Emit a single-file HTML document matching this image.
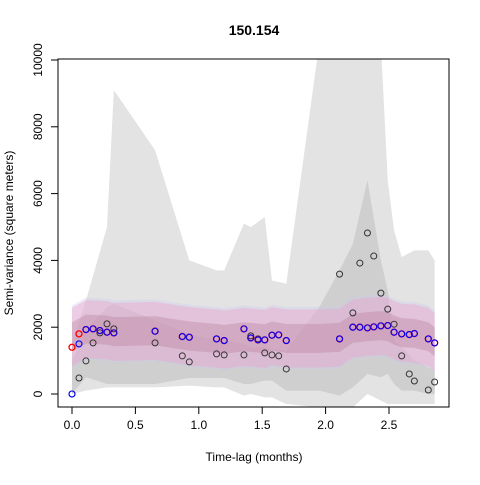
<!DOCTYPE html>
<html><head><meta charset="utf-8"><style>
body{margin:0;background:#fff;font-family:"Liberation Sans",sans-serif}
</style></head><body>
<svg id="chart" width="480" height="480" xmlns="http://www.w3.org/2000/svg" font-family="Liberation Sans, sans-serif">
<text x="254" y="35" text-anchor="middle" font-size="14" font-weight="bold">150.154</text>
<g id="bands"></g><g id="points"></g>
<rect x="58" y="59" width="391" height="348" fill="none" stroke="#000"/>
<g id="axes" font-size="12"></g>
<text x="254" y="461" text-anchor="middle" font-size="12">Time-lag (months)</text>
<text transform="translate(13,233) rotate(-90)" text-anchor="middle" font-size="12">Semi-variance (square meters)</text>
</svg>
<script>
const lags=[0,0.055,0.11,0.166,0.22,0.276,0.33,0.655,0.87,0.925,1.14,1.2,1.356,1.41,1.467,1.52,1.577,1.63,1.69,2.11,2.215,2.27,2.33,2.38,2.436,2.49,2.54,2.6,2.66,2.7,2.81,2.86];
const empirical=[0,480,990,1530,1830,2100,1950,1530,1140,960,1200,1170,1170,1740,1650,1230,1170,1140,750,3590,2430,3920,4820,4130,3020,2540,2090,1140,600,390,120,360];
const modelRed=[1400,1800,1930,1950,1900,1850,1830,1880,1720,1700,1650,1600,1950,1680,1620,1620,1760,1770,1600,1650,2000,2000,1980,2010,2040,2050,1850,1800,1780,1810,1650,1530];
const modelBlue=[0,1500,1930,1950,1900,1850,1830,1880,1720,1700,1650,1600,1950,1680,1620,1620,1760,1770,1600,1650,2000,2000,1980,2010,2040,2050,1850,1800,1780,1810,1650,1530];
const bandLags=[0,0.11,0.276,0.33,0.655,0.925,1.14,1.2,1.356,1.41,1.52,1.577,1.69,1.95,2.11,2.215,2.33,2.436,2.49,2.54,2.6,2.7,2.81,2.86];
const outerUpper=[1500,2800,5000,9100,7300,4000,3700,3700,5100,5000,5300,3400,3300,10500,10500,10500,10500,10500,6400,4900,4100,4300,4300,4000];
const outerLower=[0,100,200,200,200,250,200,200,-50,0,-100,-100,-300,-400,-400,-400,0,-200,-300,-300,-300,-300,-300,-300];
const innerUpper=[1000,1900,2600,2700,2200,1800,1600,1600,1500,1400,1400,1350,1300,2600,3700,4500,6400,4000,3100,1600,1400,1000,800,700];
const innerLower=[0,500,300,300,300,480,480,480,300,300,400,400,100,100,-50,200,600,500,600,300,100,100,0,0];
const pinkMid=[1700,1930,1900,1850,1880,1720,1650,1620,1700,1680,1640,1720,1650,1650,1680,1950,2000,2030,2000,1900,1820,1800,1700,1550];
const sx=v=>72+v*126.8, sy=v=>394-v*0.0334;
const NS="http://www.w3.org/2000/svg";
function mk(t,a,p){const e=document.createElementNS(NS,t);for(const k in a)e.setAttribute(k,a[k]);p.appendChild(e);return e;}
function band(up,lo,fill,op,name){
  let pts=bandLags.map((l,i)=>sx(l)+","+Math.max(40,sy(up[i])));
  pts=pts.concat(bandLags.map((l,i)=>sx(l)+","+Math.min(420,sy(lo[i]))).reverse());
  const e=mk("polygon",{points:pts.join(" "),fill:fill,"fill-opacity":op},document.getElementById("bands"));
  
  
}
const cp=mk("clipPath",{id:"clip"},document.getElementById("chart"));mk("rect",{x:58,y:59,width:391,height:348},cp);
document.getElementById("bands").setAttribute("clip-path","url(#clip)");
band(outerUpper,outerLower,"#e3e3e3",1,"outer-empirical-band");
band(innerUpper,innerLower,"#cfcfcf",1,"inner-empirical-band");
band(pinkMid.map(v=>v+950),pinkMid.map(v=>v-900),"#c8c8f0",0.35,"model-blue-outer-band");
band(pinkMid.map(v=>v+880),pinkMid.map(v=>v-860),"#f0a0c8",0.4,"model-red-outer-band");
band(pinkMid.map(v=>v+450),pinkMid.map(v=>v-420),"#b07090",0.3,"model-inner-band");
const pg=document.getElementById("points");
lags.forEach((l,i)=>{
  const a=mk("circle",{cx:sx(l),cy:sy(empirical[i]),r:3,fill:"none",stroke:"#333"},pg);
  
  
  const b=mk("circle",{cx:sx(l),cy:sy(modelRed[i]),r:3,fill:"none",stroke:"#f00","stroke-width":1.3},pg);
  
  
  const c=mk("circle",{cx:sx(l),cy:sy(modelBlue[i]),r:3,fill:"none",stroke:"#00f","stroke-width":1.1},pg);
  
  
});
const ax=document.getElementById("axes");
const xTicks=["0.0","0.5","1.0","1.5","2.0","2.5"];
const yTicks=["0","2000","4000","6000","8000","10000"];
xTicks.forEach(t=>{const x=sx(+t);mk("line",{x1:x,x2:x,y1:407,y2:414,stroke:"#000"},ax);
  const e=mk("text",{x:x,y:429,"text-anchor":"middle"},ax);e.textContent=t;
  
  });
yTicks.forEach(t=>{const y=sy(+t);mk("line",{x1:51,x2:58,y1:y,y2:y,stroke:"#000"},ax);
  const e=mk("text",{transform:`translate(42,${y}) rotate(-90)`,"text-anchor":"middle"},ax);e.textContent=t;
  
  });
</script>
</body></html>
